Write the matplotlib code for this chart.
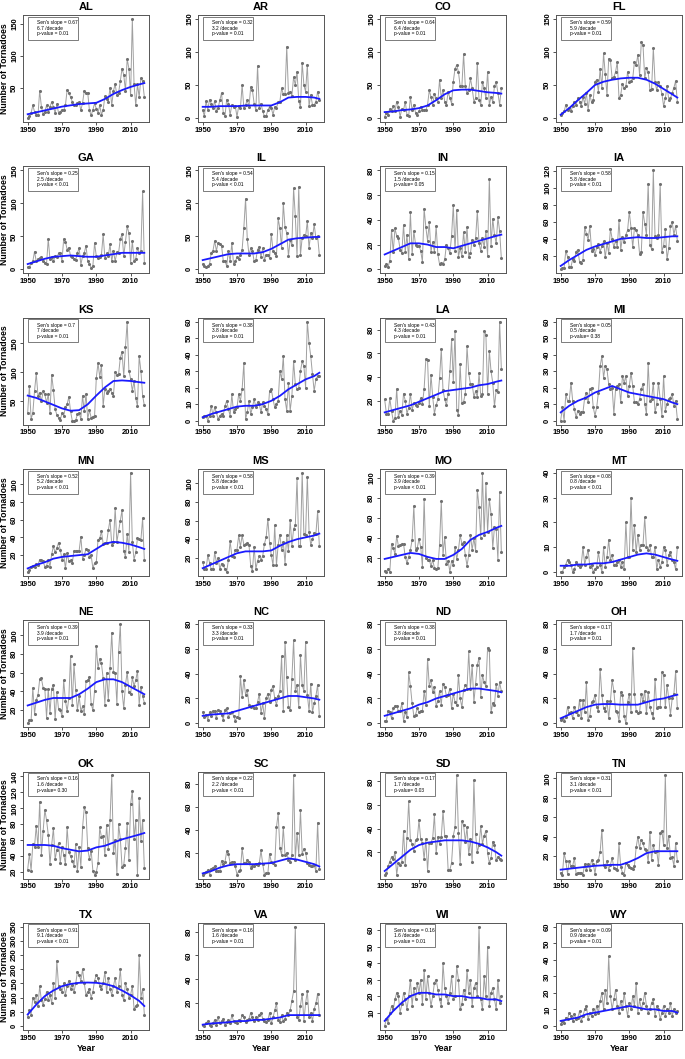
import numpy as np
import matplotlib.pyplot as plt

plt.rcParams['font.family'] = ['Liberation Sans', 'DejaVu Sans']
plt.rcParams['font.weight'] = 'bold'

years = np.arange(1950, 2019)
trend_years = [1950, 1955, 1960, 1965, 1970, 1975, 1980, 1985, 1990, 1995, 2000, 2005, 2010, 2015, 2018]

states = ["AL", "AR", "CO", "FL", "GA", "IL", "IN", "IA", "KS", "KY", "LA", "MI", "MN", "MS",
          "MO", "MT", "NE", "NC", "ND", "OH", "OK", "SC", "SD", "TN", "TX", "VA", "WI", "WY"]

# annual tornado counts 1950-2018
AL = [2, 5, 10, 22, 12, 6, 6, 45, 20, 8,
      12, 22, 12, 20, 27, 20, 10, 24, 10, 12,
      15, 14, 22, 46, 42, 35, 28, 22, 22, 25,
      27, 14, 26, 45, 42, 42, 14, 6, 15, 25,
      17, 10, 22, 7, 15, 36, 32, 28, 50, 22,
      45, 55, 38, 42, 60, 80, 70, 45, 95, 80,
      38, 158, 55, 22, 55, 35, 65, 60, 35]
AR = [12, 3, 26, 12, 28, 22, 15, 26, 10, 15,
      27, 38, 8, 3, 28, 22, 5, 20, 17, 18,
      2, 18, 15, 50, 15, 20, 27, 17, 47, 42,
      22, 12, 79, 15, 22, 10, 3, 3, 12, 17,
      15, 5, 17, 15, 24, 25, 45, 36, 37, 108,
      38, 40, 34, 62, 50, 70, 26, 16, 84, 50,
      40, 81, 18, 35, 20, 20, 25, 40, 28]
CO = [2, 8, 5, 14, 10, 18, 10, 25, 17, 2,
      14, 12, 25, 5, 3, 32, 12, 20, 8, 5,
      10, 17, 12, 12, 12, 20, 42, 32, 20, 37,
      30, 25, 58, 30, 42, 25, 20, 40, 30, 22,
      55, 75, 80, 70, 48, 48, 97, 48, 38, 42,
      60, 45, 25, 30, 84, 28, 20, 55, 45, 30,
      70, 20, 32, 25, 48, 55, 38, 20, 45]
FL = [5, 8, 10, 20, 12, 15, 10, 18, 25, 20,
      30, 25, 18, 32, 22, 38, 12, 35, 24, 28,
      55, 58, 40, 75, 45, 98, 66, 35, 90, 88,
      60, 62, 70, 85, 30, 35, 52, 45, 48, 70,
      55, 56, 60, 85, 80, 96, 65, 115, 110, 60,
      76, 70, 43, 44, 106, 55, 42, 55, 48, 37,
      18, 30, 48, 28, 30, 38, 46, 56, 25]
GA = [3, 3, 10, 12, 27, 12, 15, 17, 18, 12,
      10, 8, 46, 15, 18, 12, 20, 18, 24, 24,
      13, 46, 42, 30, 33, 20, 18, 15, 14, 25,
      32, 7, 20, 25, 36, 12, 8, 2, 5, 40,
      20, 17, 18, 22, 53, 17, 24, 20, 38, 12,
      28, 12, 26, 25, 46, 53, 20, 42, 65, 55,
      10, 43, 13, 16, 32, 25, 28, 118, 10]
IL = [8, 5, 3, 5, 8, 25, 28, 43, 28, 40,
      38, 36, 13, 13, 5, 28, 12, 40, 8, 12,
      18, 16, 22, 30, 63, 107, 46, 22, 32, 28,
      12, 14, 30, 34, 18, 32, 14, 22, 22, 17,
      54, 28, 24, 20, 77, 62, 32, 100, 64, 55,
      20, 45, 37, 123, 80, 20, 125, 22, 48, 52,
      50, 73, 32, 55, 48, 68, 47, 50, 22]
IN = [3, 4, 2, 7, 32, 14, 33, 27, 25, 16,
      13, 36, 14, 28, 8, 46, 12, 31, 20, 19,
      19, 15, 6, 49, 34, 23, 38, 14, 22, 14,
      35, 12, 4, 5, 4, 8, 20, 17, 13, 27,
      52, 15, 48, 10, 17, 11, 30, 14, 34, 10,
      13, 24, 20, 25, 47, 21, 15, 25, 18, 31,
      11, 73, 19, 41, 28, 21, 42, 31, 9]
IA = [4, 5, 6, 26, 19, 7, 7, 16, 14, 25,
      27, 13, 12, 15, 54, 46, 39, 55, 26, 28,
      21, 30, 34, 25, 31, 37, 18, 35, 23, 52,
      40, 30, 38, 30, 62, 27, 42, 36, 45, 50,
      72, 53, 30, 53, 50, 44, 22, 25, 72, 58,
      45, 105, 33, 28, 121, 43, 41, 45, 105, 25,
      32, 52, 16, 29, 55, 60, 45, 55, 38]
KS = [30, 77, 20, 30, 68, 98, 60, 65, 50, 67,
      62, 48, 62, 30, 96, 70, 37, 27, 22, 18,
      30, 25, 40, 45, 58, 33, 17, 17, 18, 28,
      30, 20, 60, 33, 63, 20, 35, 22, 24, 25,
      90, 116, 92, 112, 42, 72, 65, 68, 72, 65,
      60, 100, 96, 97, 125, 135, 93, 143, 187, 103,
      89, 68, 85, 55, 42, 128, 102, 60, 43]
KY = [2, 3, 3, 0, 3, 9, 3, 8, 5, 1,
      3, 4, 3, 9, 12, 7, 3, 16, 5, 7,
      8, 16, 12, 19, 35, 1, 5, 12, 4, 8,
      13, 8, 11, 10, 5, 11, 9, 7, 4, 18,
      19, 13, 8, 10, 12, 30, 25, 39, 13, 6,
      23, 6, 15, 36, 22, 19, 20, 30, 36, 33,
      20, 60, 47, 39, 28, 18, 25, 27, 27]
LA = [21, 9, 9, 22, 11, 3, 5, 30, 6, 11,
      8, 26, 20, 9, 14, 26, 12, 18, 16, 15,
      18, 22, 17, 30, 55, 54, 15, 42, 23, 9,
      16, 21, 39, 64, 29, 21, 16, 26, 45, 72,
      36, 79, 12, 8, 51, 18, 19, 26, 66, 43,
      34, 34, 23, 28, 23, 43, 24, 26, 79, 76,
      26, 62, 45, 35, 15, 29, 27, 87, 47]
MI = [0, 8, 0, 16, 12, 12, 23, 12, 7, 2,
      6, 4, 5, 5, 14, 17, 11, 19, 20, 8,
      3, 8, 17, 33, 39, 26, 33, 31, 22, 19,
      20, 4, 19, 21, 22, 11, 27, 23, 27, 15,
      21, 29, 21, 11, 11, 10, 13, 19, 22, 10,
      4, 35, 12, 13, 23, 5, 10, 23, 13, 3,
      27, 6, 10, 13, 14, 16, 9, 12, 1]
MN = [1, 3, 7, 8, 7, 10, 9, 15, 14, 13,
      7, 8, 15, 7, 21, 30, 23, 28, 34, 26,
      15, 21, 5, 22, 13, 14, 11, 25, 25, 25,
      25, 41, 16, 20, 27, 26, 18, 20, 5, 11,
      12, 37, 39, 47, 33, 34, 34, 48, 60, 32,
      35, 73, 35, 47, 59, 71, 25, 18, 44, 24,
      113, 35, 15, 23, 39, 38, 37, 62, 14]
MS = [16, 8, 8, 23, 15, 8, 8, 26, 15, 20,
      8, 14, 12, 8, 5, 18, 38, 22, 21, 28,
      29, 44, 32, 44, 34, 35, 36, 34, 11, 6,
      32, 8, 17, 22, 18, 22, 35, 42, 62, 36,
      23, 12, 55, 12, 34, 45, 28, 37, 14, 44,
      27, 61, 33, 51, 55, 105, 33, 33, 111, 46,
      45, 107, 48, 34, 40, 47, 46, 70, 33]
MO = [7, 6, 9, 6, 34, 30, 24, 42, 32, 33,
      34, 34, 21, 15, 21, 28, 38, 72, 28, 30,
      39, 31, 11, 79, 20, 18, 18, 12, 18, 10,
      9, 10, 33, 77, 23, 41, 14, 17, 6, 17,
      13, 31, 19, 28, 43, 34, 36, 23, 12, 23,
      43, 28, 40, 27, 88, 71, 40, 105, 43, 95,
      46, 79, 64, 30, 51, 49, 18, 86, 26]
MT = [0, 0, 2, 3, 5, 4, 3, 0, 1, 4,
      3, 2, 3, 10, 3, 6, 9, 2, 3, 0,
      1, 2, 8, 3, 0, 10, 2, 6, 13, 5,
      7, 3, 3, 4, 5, 2, 4, 1, 20, 6,
      6, 30, 9, 19, 8, 15, 9, 11, 11, 22,
      10, 9, 11, 6, 6, 10, 1, 5, 2, 4,
      10, 9, 3, 7, 8, 5, 4, 1, 10]
NE = [6, 9, 9, 44, 16, 31, 36, 53, 54, 44,
      43, 12, 43, 17, 43, 47, 10, 39, 21, 20,
      14, 52, 30, 19, 33, 78, 26, 69, 42, 20,
      35, 19, 24, 16, 51, 52, 55, 27, 20, 41,
      89, 65, 75, 70, 54, 26, 60, 31, 65, 103,
      61, 60, 27, 82, 112, 40, 22, 47, 61, 39,
      37, 55, 46, 52, 62, 26, 45, 35, 28]
NC = [9, 5, 7, 3, 9, 6, 10, 10, 4, 11,
      10, 7, 3, 11, 12, 5, 8, 9, 6, 2,
      5, 4, 38, 21, 35, 23, 27, 15, 13, 14,
      12, 12, 17, 24, 8, 16, 4, 20, 24, 17,
      27, 30, 20, 15, 22, 26, 54, 10, 66, 37,
      13, 11, 36, 67, 26, 31, 13, 55, 31, 26,
      66, 23, 10, 32, 9, 16, 22, 31, 6]
ND = [2, 2, 10, 9, 4, 12, 14, 14, 10, 10,
      16, 2, 9, 5, 41, 30, 16, 6, 7, 12,
      9, 10, 10, 26, 15, 52, 30, 35, 25, 29,
      14, 18, 26, 15, 32, 29, 22, 23, 28, 12,
      24, 17, 15, 39, 20, 13, 27, 31, 28, 58,
      28, 47, 17, 32, 47, 53, 21, 39, 33, 30,
      61, 59, 9, 16, 15, 32, 22, 33, 26]
OH = [3, 4, 2, 5, 13, 8, 9, 4, 13, 9,
      7, 19, 4, 19, 9, 33, 3, 6, 17, 18,
      23, 13, 10, 44, 23, 12, 10, 18, 4, 18,
      35, 26, 10, 9, 2, 25, 23, 6, 0, 17,
      24, 9, 61, 24, 10, 8, 9, 24, 18, 26,
      8, 25, 13, 8, 4, 36, 12, 13, 13, 41,
      39, 13, 31, 20, 7, 20, 24, 42, 12]
OK = [23, 43, 22, 55, 52, 78, 51, 108, 42, 71,
      98, 85, 67, 30, 54, 75, 36, 48, 56, 31,
      52, 42, 30, 76, 45, 40, 34, 28, 55, 21,
      52, 27, 76, 101, 95, 50, 36, 47, 22, 17,
      20, 31, 76, 64, 65, 41, 79, 49, 85, 141,
      44, 60, 18, 80, 62, 27, 29, 50, 81, 35,
      105, 122, 62, 85, 17, 113, 59, 85, 25]
SC = [1, 2, 3, 5, 1, 6, 7, 8, 4, 4,
      4, 13, 10, 12, 21, 19, 11, 12, 12, 8,
      1, 4, 5, 24, 11, 11, 14, 12, 7, 8,
      8, 10, 9, 11, 22, 10, 1, 2, 2, 19,
      12, 11, 9, 42, 54, 24, 18, 42, 18, 20,
      14, 12, 18, 87, 14, 37, 18, 57, 19, 23,
      20, 11, 9, 8, 8, 9, 4, 46, 6]
SD = [1, 2, 8, 12, 16, 14, 20, 1, 11, 9,
      12, 38, 9, 32, 63, 30, 27, 21, 30, 31,
      47, 31, 28, 14, 31, 4, 28, 28, 32, 52,
      19, 33, 27, 33, 55, 34, 34, 5, 5, 11,
      34, 41, 85, 36, 10, 46, 43, 29, 41, 18,
      31, 12, 81, 35, 20, 26, 42, 27, 34, 38,
      19, 11, 15, 29, 26, 13, 16, 14, 13]
TN = [3, 1, 23, 15, 2, 15, 10, 10, 18, 2,
      3, 3, 3, 1, 12, 6, 12, 6, 16, 12,
      2, 15, 16, 24, 47, 11, 9, 15, 6, 11,
      18, 8, 7, 6, 33, 9, 3, 1, 13, 11,
      9, 8, 7, 10, 29, 40, 28, 37, 33, 27,
      26, 14, 45, 16, 31, 24, 25, 11, 44, 46,
      31, 103, 28, 41, 18, 19, 10, 33, 15]
TX = [30, 55, 40, 100, 85, 110, 70, 140, 90, 75,
      95, 120, 90, 110, 80, 150, 100, 230, 140, 130,
      120, 150, 110, 140, 160, 130, 145, 120, 150, 190,
      180, 160, 200, 150, 110, 120, 130, 100, 120, 160,
      180, 170, 140, 130, 150, 190, 120, 170, 130, 110,
      140, 170, 120, 140, 200, 110, 90, 150, 130, 100,
      110, 140, 60, 70, 75, 250, 100, 130, 40]
VA = [2, 1, 3, 5, 2, 1, 3, 6, 2, 8,
      3, 5, 7, 2, 4, 6, 3, 10, 5, 4,
      3, 6, 5, 10, 8, 4, 6, 7, 12, 8,
      5, 8, 6, 10, 12, 7, 5, 4, 6, 12,
      3, 8, 14, 20, 6, 4, 10, 5, 7, 12,
      10, 14, 22, 30, 84, 8, 6, 18, 28, 5,
      20, 30, 8, 12, 5, 15, 20, 28, 10]
WI = [2, 6, 4, 10, 14, 12, 18, 22, 20, 10,
      15, 22, 18, 12, 20, 30, 14, 25, 18, 28,
      22, 30, 15, 36, 18, 32, 22, 14, 20, 28,
      30, 24, 18, 14, 40, 25, 20, 16, 22, 32,
      18, 20, 38, 30, 12, 15, 24, 18, 36, 22,
      30, 14, 25, 28, 20, 62, 18, 12, 32, 20,
      50, 14, 22, 25, 18, 12, 30, 16, 20]
WY = [1, 3, 2, 5, 4, 8, 6, 3, 7, 4,
      5, 9, 3, 6, 10, 12, 4, 8, 6, 10,
      7, 12, 8, 15, 20, 10, 22, 14, 42, 18,
      10, 16, 22, 12, 8, 15, 10, 20, 12, 6,
      14, 10, 18, 12, 26, 8, 16, 10, 14, 20,
      12, 8, 10, 14, 16, 6, 12, 10, 4, 8,
      12, 6, 10, 8, 14, 6, 10, 8, 9]

# smoothed trend read at trend_years
AL_t = [8, 11, 14, 17, 20, 22, 24, 25, 26, 32, 40, 46, 51, 55, 57]
AR_t = [17, 17, 18, 18, 18, 19, 19, 19, 19, 24, 31, 32, 32, 31, 29]
CO_t = [9, 10, 12, 13, 15, 19, 27, 36, 42, 43, 43, 41, 39, 38, 37]
FL_t = [5, 15, 27, 38, 50, 55, 58, 60, 61, 61, 58, 52, 44, 36, 31]
GA_t = [8, 12, 16, 19, 20, 21, 20, 19, 19, 21, 23, 25, 25, 25, 25]
IL_t = [14, 17, 20, 23, 24, 24, 24, 26, 31, 38, 45, 47, 48, 49, 49]
IN_t = [12, 15, 18, 21, 21, 20, 18, 18, 17, 19, 21, 23, 25, 27, 28]
IA_t = [8, 15, 21, 27, 31, 34, 37, 40, 41, 42, 41, 41, 42, 43, 43]
KS_t = [60, 56, 50, 44, 38, 34, 35, 45, 60, 74, 85, 86, 85, 83, 82]
KY_t = [2, 4, 5.5, 7, 8.5, 9, 9, 10, 12, 15, 19, 22, 25, 27, 29]
LA_t = [10, 12, 14, 16, 19, 22, 25, 28, 29, 30, 31, 33, 34, 36, 37]
MI_t = [5, 9, 12, 14, 17, 19, 21, 19, 17, 16, 15, 14, 13, 11, 10]
MN_t = [5, 9, 12, 16, 18, 19, 20, 21, 27, 33, 35, 34, 32, 29, 27]
MS_t = [9, 13, 17, 21, 25, 27, 27, 27, 28, 33, 37, 40, 42, 44, 46]
MO_t = [19, 21, 23, 25, 24, 21, 19, 19, 23, 29, 38, 43, 46, 50, 52]
MT_t = [2.5, 2.5, 3, 3, 3.5, 3.5, 4, 5, 6, 7, 7.5, 7, 6, 5, 4.5]
NE_t = [25, 28, 31, 33, 33, 33, 37, 43, 50, 53, 53, 50, 45, 40, 37]
NC_t = [6, 7, 7.5, 8, 10, 12, 14, 16, 18, 20, 22, 22, 21, 20, 19]
ND_t = [6, 8, 10, 12, 15, 17, 20, 22, 24, 26, 28, 28, 27, 26, 25]
OH_t = [4, 7, 10, 13, 15, 15.5, 15.5, 15, 15, 15, 17, 19, 20, 22, 23]
OK_t = [54, 54, 54, 53, 50, 48, 46, 47, 51, 53, 57, 61, 64, 67, 69]
SC_t = [2, 4, 7, 9, 10, 10, 10, 10.5, 11, 13, 15, 14, 12, 10, 8]
SD_t = [4, 10, 16, 22, 26, 28, 29, 30, 30, 30, 29, 27, 24, 20, 17]
TN_t = [6, 7, 8, 9, 10, 10.5, 11, 11, 14, 18, 23, 25, 25, 25, 25]
TX_t = [40, 75, 105, 125, 140, 148, 152, 153, 152, 148, 140, 125, 108, 88, 70]
VA_t = [2, 3, 3.5, 4, 5, 5, 6, 6, 7, 8, 10, 10, 10, 10, 10]
WI_t = [5, 11, 16, 20, 22, 22, 21, 21, 20, 20, 19, 19, 18, 18, 17]
WY_t = [3, 4, 5, 7, 8, 9, 10, 11, 12, 11, 10, 10, 9, 9, 8]

counts = [AL, AR, CO, FL, GA, IL, IN, IA, KS, KY, LA, MI, MN, MS,
          MO, MT, NE, NC, ND, OH, OK, SC, SD, TN, TX, VA, WI, WY]
trends = [AL_t, AR_t, CO_t, FL_t, GA_t, IL_t, IN_t, IA_t, KS_t, KY_t, LA_t, MI_t, MN_t, MS_t,
          MO_t, MT_t, NE_t, NC_t, ND_t, OH_t, OK_t, SC_t, SD_t, TN_t, TX_t, VA_t, WI_t, WY_t]

sen_slope = ["0.67", "0.32", "0.64", "0.59", "0.25", "0.54", "0.15", "0.58", "0.7", "0.38",
             "0.43", "0.05", "0.52", "0.58", "0.39", "0.08", "0.39", "0.33", "0.38", "0.17",
             "0.16", "0.22", "0.17", "0.31", "0.91", "0.16", "0.16", "0.09"]
per_decade = ["6.7", "3.2", "6.4", "5.9", "2.5", "5.4", "1.5", "5.8", "7", "3.8",
              "4.3", "0.5", "5.2", "5.8", "3.9", "0.8", "3.9", "3.3", "3.8", "1.7",
              "1.6", "2.2", "1.7", "3.1", "9.1", "1.6", "1.6", "0.9"]
p_value = ["p-value = 0.01", "p-value = 0.01", "p-value = 0.01", "p-value = 0.01",
           "p-value < 0.01", "p-value < 0.01", "p-value= 0.05", "p-value < 0.01",
           "p-value = 0.01", "p-value = 0.01", "p-value = 0.01", "p-value= 0.38",
           "p-value < 0.01", "p-value < 0.01", "p-value < 0.01", "p-value < 0.01",
           "p-value = 0.01", "p-value = 0.01", "p-value = 0.01", "p-value = 0.01",
           "p-value= 0.30", "p-value < 0.01", "p-value= 0.03", "p-value < 0.01",
           "p-value < 0.01", "p-value = 0.01", "p-value = 0.01", "p-value = 0.01"]

# y-axis settings: fixed limits (others from data) and tick step
y_fixed = {"AR": (0, 150), "CO": (0, 150), "FL": (0, 150), "GA": (0, 150), "IL": (0, 150),
           "IN": (0, 80), "MI": (0, 60), "MT": (0, 40), "NC": (0, 80), "ND": (0, 80),
           "OH": (0, 80), "TX": (0, 350), "WY": (0, 60)}
y_step = {"AL": 50, "AR": 50, "CO": 50, "FL": 50, "GA": 50, "IL": 50, "IN": 20, "IA": 20,
          "KS": 50, "KY": 10, "LA": 20, "MI": 10, "MN": 20, "MS": 20, "MO": 20, "MT": 10,
          "NE": 20, "NC": 20, "ND": 20, "OH": 20, "OK": 20, "SC": 20, "SD": 20, "TN": 20,
          "TX": 50, "VA": 20, "WI": 10, "WY": 10}

W, H = 685, 1059
fig = plt.figure(figsize=(W / 100, H / 100), dpi=100)

col_left = [23, 198, 380, 556]
ax_w, ax_h = 126, 107

for k, st in enumerate(states):
    vals = np.array(counts[k], dtype=float)
    assert len(vals) == len(years), st
    r, c = divmod(k, 4)
    top = 15 + 151.3 * r
    ax = fig.add_axes([col_left[c] / W, 1 - (top + ax_h) / H, ax_w / W, ax_h / H])

    ax.plot(years, vals, color='#a0a0a0', lw=0.7, zorder=2)
    ax.scatter(years, vals, s=5, color='#707070', zorder=3, linewidths=0)
    ax.plot(trend_years, trends[k], color='#1a1aff', lw=1.3, zorder=4)

    ax.set_xlim(1950 - 68 * 0.04, 2018 + 68 * 0.04)
    lo, hi = y_fixed.get(st, (vals.min(), vals.max()))
    pad = (hi - lo) * 0.04
    ax.set_ylim(lo - pad, hi + pad)
    step = y_step[st]
    yt = np.arange(np.ceil(lo / step) * step, hi + 0.01, step)
    ax.set_yticks(yt)
    ax.set_yticklabels([f"{int(v)}" for v in yt], rotation=90, va='center')
    ax.set_xticks([1950, 1970, 1990, 2010])

    ax.tick_params(direction='out', length=2.5, width=0.6, labelsize=5.5, pad=1.0, color='#333333')
    for sp in ax.spines.values():
        sp.set_color('#555555')
        sp.set_linewidth(0.7)

    ax.set_title(st, fontsize=8, fontweight='bold', pad=3.5)

    # legend box with Sen's slope info
    ax.add_patch(plt.Rectangle((0.04, 0.77), 0.40, 0.215, transform=ax.transAxes,
                               fill=False, edgecolor='#666666', lw=0.6, zorder=5))
    lines = [f"Sen's slope = {sen_slope[k]}", f"{per_decade[k]} /decade", p_value[k]]
    for j, txt in enumerate(lines):
        ax.text(0.11, 0.93 - j * 0.052, txt, transform=ax.transAxes, fontsize=3.5,
                fontweight='normal', va='center', ha='left', zorder=6)

    if c == 0:
        fig.text(4.5 / W, 1 - (top + ax_h / 2) / H, "Number of Tornadoes", rotation=90,
                 ha='center', va='center', fontsize=6.3, fontweight='bold')
    if r == 6:
        ax.set_xlabel("Year", fontsize=6.5, fontweight='bold', labelpad=1.5)

fig.savefig("out.png", dpi=100)
